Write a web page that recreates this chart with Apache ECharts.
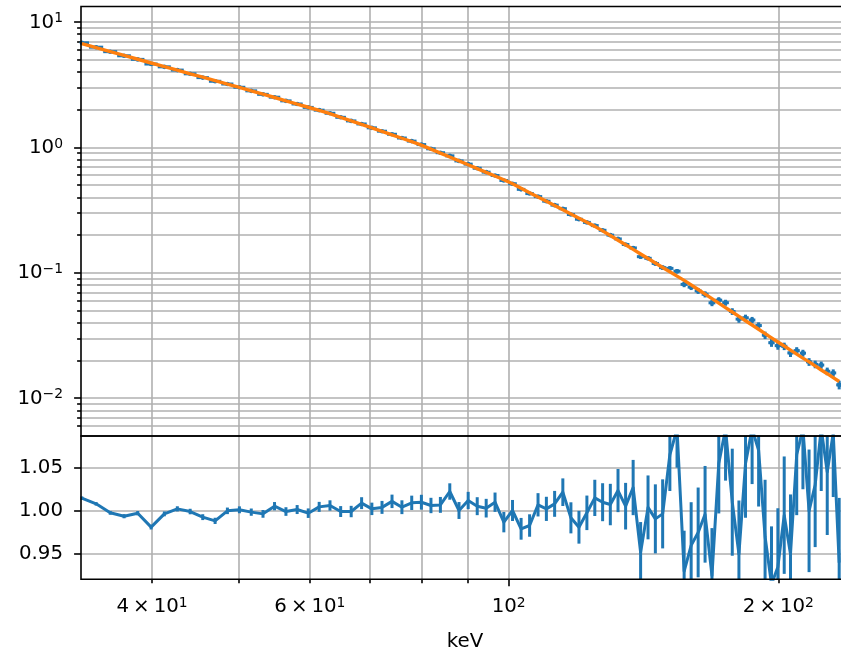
<!DOCTYPE html>
<html>
<head>
<meta charset="utf-8">
<script src="https://cdn.jsdelivr.net/npm/echarts@6/dist/echarts.min.js"></script>
<style>
  html, body { margin: 0; padding: 0; background: #fff; }
  #chart { width: 841px; height: 652px; }
</style>
</head>
<body>
<div id="chart"></div>
<script>
// Channel centre energies (keV)
const energy = [33.39, 34.64, 35.92, 37.22, 38.55, 39.90, 41.28, 42.68, 44.11, 45.56,
  47.03, 48.54, 50.06, 51.61, 53.19, 54.79, 56.42, 58.07, 59.75, 61.45,
  63.18, 64.94, 66.72, 68.53, 70.36, 72.22, 74.10, 76.01, 77.95, 79.91,
  81.90, 83.91, 85.96, 88.02, 90.12, 92.24, 94.39, 96.56, 98.77, 101.00,
  103.25, 105.53, 107.84, 110.18, 112.54, 114.94, 117.35, 119.80, 122.27, 124.78,
  127.31, 129.86, 132.45, 135.06, 137.70, 140.37, 143.07, 145.79, 148.55, 151.33,
  154.14, 156.98, 159.84, 162.74, 165.66, 168.62, 171.60, 174.61, 177.65, 180.72,
  183.81, 186.94, 190.10, 193.28, 196.50, 199.74, 203.02, 206.32, 209.65, 213.02,
  216.41, 219.83, 223.28, 226.76, 230.28, 233.82];

// Folded model at each channel
const model = [6.724, 6.247, 5.812, 5.411, 5.047, 4.710, 4.405, 4.126, 3.865, 3.628,
  3.407, 3.202, 3.013, 2.829, 2.658, 2.500, 2.352, 2.216, 2.090, 1.972,
  1.860, 1.739, 1.628, 1.524, 1.429, 1.341, 1.259, 1.183, 1.112, 1.043,
  0.9685, 0.9007, 0.8378, 0.7801, 0.7271, 0.6781, 0.6329, 0.5910, 0.5523, 0.5130,
  0.4727, 0.4359, 0.4024, 0.3717, 0.3437, 0.3177, 0.2943, 0.2726, 0.2529, 0.2346,
  0.2161, 0.1983, 0.1821, 0.1673, 0.1538, 0.1413, 0.1300, 0.1199, 0.1104, 0.1019,
  0.0941, 0.0870, 0.0801, 0.0736, 0.0677, 0.0623, 0.0574, 0.0528, 0.0487, 0.0450,
  0.0415, 0.0384, 0.0355, 0.0328, 0.0303, 0.0281, 0.0261, 0.0242, 0.0225, 0.0209,
  0.0195, 0.0181, 0.0168, 0.0157, 0.0146, 0.0136];

// Data / model ratio and its 1-sigma error
const ratio = [1.0147, 1.0081, 0.9977, 0.9938, 0.9973, 0.9811, 0.9965, 1.0023, 0.9992, 0.9927,
  0.9884, 1.0000, 1.0012, 0.9985, 0.9965, 1.0054, 0.9992, 1.0015, 0.9973, 1.0046,
  1.0062, 0.9992, 0.9992, 1.0089, 1.0023, 1.0040, 1.0110, 1.0042, 1.0093, 1.0100,
  1.0062, 1.0069, 1.0224, 1.0004, 1.0120, 1.0054, 1.0031, 1.0100, 0.9869, 1.0004,
  0.9792, 0.9830, 1.0070, 1.0023, 1.0081, 1.0216, 0.9919, 0.9810, 0.9977, 1.0150,
  1.0100, 1.0073, 1.0235, 1.0054, 1.0270, 0.9520, 1.0040, 0.9907, 0.9965, 1.0650,
  1.0950, 0.9300, 0.9600, 0.9750, 0.9960, 0.9250, 1.0550, 1.0950, 1.0100, 0.9500,
  1.0550, 1.0950, 1.0700, 0.9700, 0.9150, 0.9350, 0.9950, 0.9500, 1.0650, 1.0950,
  1.0000, 1.0300, 1.0950, 1.0450, 1.0900, 0.9400];

const ratioErr = [0.0020, 0.0020, 0.0022, 0.0024, 0.0025, 0.0027, 0.0028, 0.0030, 0.0032, 0.0034,
  0.0036, 0.0038, 0.0040, 0.0042, 0.0045, 0.0048, 0.0050, 0.0052, 0.0055, 0.0058,
  0.0060, 0.0063, 0.0066, 0.0069, 0.0072, 0.0075, 0.0078, 0.0080, 0.0083, 0.0086,
  0.0089, 0.0092, 0.0095, 0.0098, 0.0100, 0.0104, 0.0108, 0.0112, 0.0118, 0.0122,
  0.0126, 0.0130, 0.0135, 0.0140, 0.0150, 0.0160, 0.0180, 0.0190, 0.0200, 0.0210,
  0.0220, 0.0240, 0.0250, 0.0270, 0.0320, 0.0350, 0.0370, 0.0400, 0.0400, 0.0420,
  0.0450, 0.0470, 0.0500, 0.0520, 0.0560, 0.0550, 0.0580, 0.0600, 0.0620, 0.0620,
  0.0630, 0.0640, 0.0650, 0.0660, 0.0670, 0.0680, 0.0680, 0.0690, 0.0700, 0.0700,
  0.0710, 0.0720, 0.0720, 0.0730, 0.0740, 0.0750];

// Axis ticks
const fluxDecades = [0.01, 0.1, 1, 10];
const energyLabelTicks = [40, 60, 100, 200];
const energyMajorTicks = [100];
const energyMinorTicks = [40, 50, 60, 70, 80, 90, 200];
const ratioTicks = [0.95, 1.00, 1.05];

// Axis limits
const E_MIN = 33.32, E_MAX = 239.8;
const F_MIN = 0.005, F_MAX = 13.29;
const R_MIN = 0.9207, R_MAX = 1.0867;

const BLUE = '#1f77b4', ORANGE = '#ff7f0e', GRIDC = '#b0b0b0';
const FONT = 'DejaVu Sans';
const FS = 19.8;

// minor log ticks 2..9 x 10^k strictly inside the flux range
const fluxMinor = [];
for (let k = -3; k <= 1; k++) {
  for (let m = 2; m <= 9; m++) {
    const v = m * Math.pow(10, k);
    if (v > F_MIN * 1.001 && v < F_MAX * 0.999) fluxMinor.push(v);
  }
}

// counts spectrum = model x ratio, with bin edges at geometric midpoints
const n = energy.length;
const flux = energy.map((_, i) => model[i] * ratio[i]);
const fluxErr = energy.map((_, i) => model[i] * ratioErr[i]);
const edges = [];
for (let i = 1; i < n; i++) edges[i] = Math.sqrt(energy[i - 1] * energy[i]);
edges[0] = energy[0] * energy[0] / edges[1];
edges[n] = energy[n - 1] * energy[n - 1] / edges[n - 1];

const spectrumData = energy.map((e, i) => [e, flux[i], flux[i] - fluxErr[i], flux[i] + fluxErr[i], edges[i], edges[i + 1]]);
const modelData = energy.map((e, i) => [e, model[i]]);
const ratioData = energy.map((e, i) => [e, ratio[i]]);
const ratioBarData = energy.map((e, i) => [e, ratio[i], ratio[i] - ratioErr[i], ratio[i] + ratioErr[i]]);

function sciLabel(mant, exp) {
  const e = exp < 0 ? '\u2212' + (-exp) : String(exp);
  const base = mant ? mant + '\u2009\u00d7\u200910' : '10';
  return '{b|' + base + '}{s|' + e + '}';
}
const rich = {
  b: { fontFamily: FONT, fontSize: FS, lineHeight: 21, verticalAlign: 'bottom', color: '#000' },
  s: { fontFamily: FONT, fontSize: FS * 0.7, lineHeight: 21, verticalAlign: 'top', color: '#000' }
};

const tickStyle = { color: '#000', width: 1.6 };
const gridLine = { show: true, lineStyle: { color: GRIDC, width: 1.6, type: 'solid' } };

function clamp(v, a, b) { return Math.max(a, Math.min(b, v)); }

function renderSpectrum(params, api) {
  const cs = params.coordSys;
  const c = api.coord([api.value(0), api.value(1)]);
  const lo = api.coord([api.value(0), api.value(2)]);
  const hi = api.coord([api.value(0), api.value(3)]);
  const l = api.coord([api.value(4), api.value(1)]);
  const r = api.coord([api.value(5), api.value(1)]);
  const x0 = cs.x, x1 = cs.x + cs.width;
  const st = { stroke: BLUE, lineWidth: 3 };
  return {
    type: 'group',
    children: [
      { type: 'line', shape: { x1: c[0], y1: lo[1], x2: c[0], y2: hi[1] }, style: st },
      { type: 'line', shape: { x1: clamp(l[0], x0, x1), y1: c[1], x2: clamp(r[0], x0, x1), y2: c[1] }, style: st },
      { type: 'circle', shape: { cx: c[0], cy: c[1], r: 2.3 }, style: { fill: BLUE } }
    ]
  };
}

function renderRatioBars(params, api) {
  const cs = params.coordSys;
  const y0 = cs.y, y1 = cs.y + cs.height;
  const lo = api.coord([api.value(0), api.value(2)]);
  const hi = api.coord([api.value(0), api.value(3)]);
  const a = clamp(lo[1], y0, y1), b = clamp(hi[1], y0, y1);
  if (a === b) return null;
  return { type: 'line', shape: { x1: lo[0], y1: a, x2: lo[0], y2: b }, style: { stroke: BLUE, lineWidth: 3 } };
}

const chart = echarts.init(document.getElementById('chart'), null, { renderer: 'canvas' });
chart.setOption({
  animation: false,
  backgroundColor: '#fff',
  grid: [
    { left: 81, right: -8, top: 6.5, height: 429.5, show: true, borderColor: '#000', borderWidth: 1.6,
      backgroundColor: 'transparent', containLabel: false, outerBoundsMode: 'none', z: 5 },
    { left: 81, right: -8, top: 436, height: 143.3, show: true, borderColor: '#000', borderWidth: 1.6,
      backgroundColor: 'transparent', containLabel: false, outerBoundsMode: 'none', z: 5 }
  ],
  xAxis: [
    { gridIndex: 0, type: 'log', logBase: 10, min: E_MIN, max: E_MAX, position: 'bottom',
      axisLine: { show: false }, axisTick: { show: false, customValues: energyMinorTicks.concat(energyMajorTicks) },
      axisLabel: { show: false }, splitLine: gridLine },
    { gridIndex: 1, type: 'log', logBase: 10, min: E_MIN, max: E_MAX, position: 'bottom',
      name: 'keV', nameLocation: 'middle', nameGap: 53,
      nameTextStyle: { fontFamily: FONT, fontSize: FS, color: '#000' },
      axisLine: { show: false },
      axisTick: { show: true, customValues: energyMajorTicks, length: 6.9, lineStyle: tickStyle },
      axisLabel: { show: true, customValues: energyLabelTicks, margin: 17, rich: rich,
        formatter: v => {
          const ex = Math.floor(Math.log10(v) + 1e-9);
          const m = Math.round(v / Math.pow(10, ex));
          return sciLabel(m === 1 ? null : m, ex);
        } },
      splitLine: gridLine },
    { gridIndex: 1, type: 'log', logBase: 10, min: E_MIN, max: E_MAX, position: 'bottom',
      axisLine: { show: false },
      axisTick: { show: true, customValues: energyMinorTicks, length: 3.9, lineStyle: tickStyle },
      axisLabel: { show: false }, splitLine: gridLine }
  ],
  yAxis: [
    { gridIndex: 0, type: 'log', logBase: 10, min: F_MIN, max: F_MAX, position: 'left',
      axisLine: { show: false },
      axisTick: { show: true, customValues: fluxDecades, length: 6.9, lineStyle: tickStyle },
      axisLabel: { show: true, customValues: fluxDecades, margin: 18, rich: rich,
        formatter: v => sciLabel(null, Math.round(Math.log10(v))) },
      splitLine: gridLine },
    { gridIndex: 0, type: 'log', logBase: 10, min: F_MIN, max: F_MAX, position: 'left',
      axisLine: { show: false },
      axisTick: { show: true, customValues: fluxMinor, length: 3.9, lineStyle: tickStyle },
      axisLabel: { show: false }, splitLine: gridLine },
    { gridIndex: 1, type: 'value', min: R_MIN, max: R_MAX, position: 'left',
      axisLine: { show: false },
      axisTick: { show: true, customValues: ratioTicks, length: 6.9, lineStyle: tickStyle },
      axisLabel: { show: true, customValues: ratioTicks, margin: 18,
        fontFamily: FONT, fontSize: FS, color: '#000', formatter: v => v.toFixed(2) },
      splitLine: gridLine }
  ],
  series: [
    { name: 'spectrum', type: 'custom', xAxisIndex: 0, yAxisIndex: 0, z: 3,
      renderItem: renderSpectrum, data: spectrumData },
    { name: 'model', type: 'line', xAxisIndex: 0, yAxisIndex: 0, z: 4, data: modelData,
      showSymbol: false, symbol: 'none', lineStyle: { color: ORANGE, width: 3.4, join: 'round' } },
    { name: 'ratio', type: 'line', xAxisIndex: 1, yAxisIndex: 2, z: 3, data: ratioData, clip: true,
      showSymbol: false, symbol: 'none', lineStyle: { color: BLUE, width: 3, join: 'round' } },
    { name: 'ratio error', type: 'custom', xAxisIndex: 1, yAxisIndex: 2, z: 3,
      renderItem: renderRatioBars, data: ratioBarData }
  ]
});
</script>
</body>
</html>
